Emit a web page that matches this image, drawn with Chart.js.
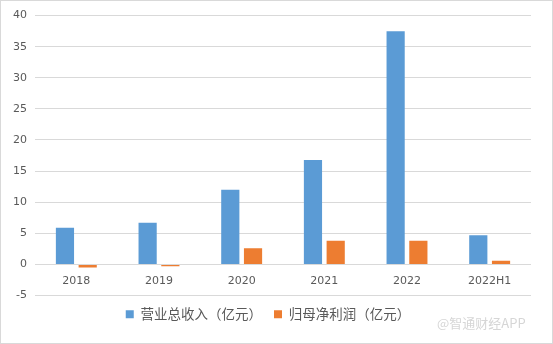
<!DOCTYPE html>
<html>
<head>
<meta charset="utf-8">
<script src="https://cdn.jsdelivr.net/npm/chart.js@4/dist/chart.umd.min.js"></script>
<style>
  html, body { margin: 0; padding: 0; background: #fff; }
  #wrap { position: relative; width: 553px; height: 344px; box-sizing: border-box; border: 1px solid #d9d9d9; }
  #chart { position: absolute; left: 0; top: 0; }
  #mark { position: absolute; left: 436px; top: 312px; font: 13px "Noto Sans CJK SC", sans-serif; color: #d6d6d6; white-space: nowrap; }
</style>
</head>
<body>
<div id="wrap">
  <canvas id="chart" width="551" height="342"></canvas>
  <div id="mark">@智通财经APP</div>
</div>
<script>
// Categories and series (亿元)
const years = ['2018', '2019', '2020', '2021', '2022', '2022H1'];
const revenue = [5.9, 6.7, 12.0, 16.8, 37.5, 4.7];
const netProfit = [-0.5, -0.3, 2.6, 3.8, 3.8, 0.6];
const yMin = -5, yMax = 40, yStep = 5;

const ctx = document.getElementById('chart').getContext('2d');
new Chart(ctx, {
    type: 'bar',
    data: {
        labels: years,
        datasets: [{
            label: '营业总收入（亿元）',
            data: revenue,
            backgroundColor: '#5b9bd5',
            barPercentage: 0.8,
            categoryPercentage: 0.55
        }, {
            label: '归母净利润（亿元）',
            data: netProfit,
            backgroundColor: '#ed7d31',
            barPercentage: 0.8,
            categoryPercentage: 0.55
        }]
    },
    options: {
        responsive: false,
        animation: false,
        layout: { padding: { left: 4, right: 21, top: 9, bottom: 12 } },
        plugins: {
            tooltip: { enabled: false },
            legend: {
                position: 'bottom',
                labels: {
                    boxWidth: 8,
                    boxHeight: 8,
                    padding: 12,
                    color: '#595959',
                    font: { family: '"Noto Sans CJK SC", sans-serif', size: 13.5 }
                }
            }
        },
        scales: {
            x: {
                position: { y: 0 },
                grid: { display: false, drawTicks: false },
                border: { display: false },
                ticks: {
                    padding: 10,
                    color: '#595959',
                    font: { family: '"DejaVu Sans", sans-serif', size: 11 }
                }
            },
            y: {
                min: yMin,
                max: yMax,
                grid: { color: '#d9d9d9', drawTicks: false },
                border: { display: false },
                ticks: {
                    stepSize: yStep,
                    padding: 8,
                    color: '#595959',
                    font: { family: '"DejaVu Sans", sans-serif', size: 11 }
                }
            }
        }
    }
});
</script>
</body>
</html>
